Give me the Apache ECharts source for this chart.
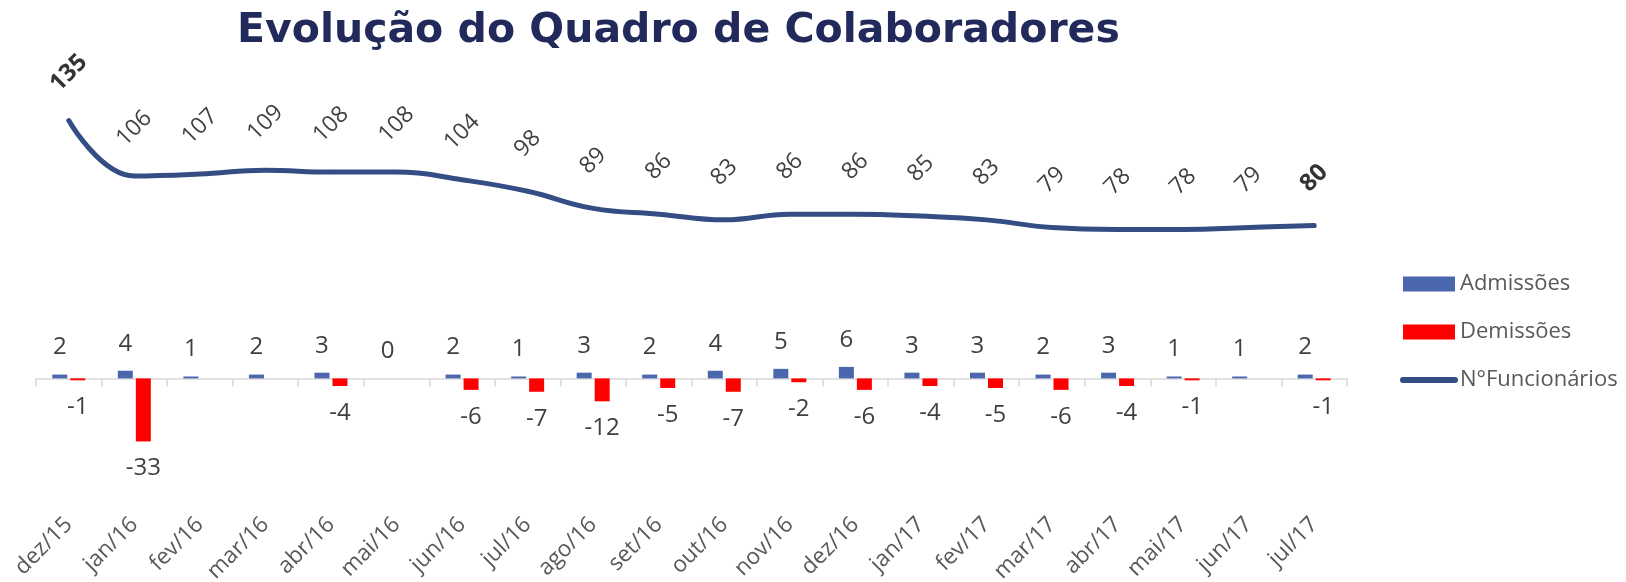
<!DOCTYPE html>
<html><head><meta charset="utf-8">
<script src="https://cdn.jsdelivr.net/npm/echarts@6/dist/echarts.min.js"></script>
<style>html,body{margin:0;padding:0;background:#fff}#c{width:1626px;height:582px}</style>
</head><body><div id="c"></div>
<script>
const categories = ['dez/15','jan/16','fev/16','mar/16','abr/16','mai/16','jun/16','jul/16','ago/16','set/16','out/16','nov/16','dez/16','jan/17','fev/17','mar/17','abr/17','mai/17','jun/17','jul/17'];
const admissoes = [2,4,1,2,3,0,2,1,3,2,4,5,6,3,3,2,3,1,1,2];
const demissoes = [-1,-33,null,null,-4,null,-6,-7,-12,-5,-7,-2,-6,-4,-5,-6,-4,-1,null,-1];
const funcionarios = [135,106,107,109,108,108,104,98,89,86,83,86,86,85,83,79,78,78,79,80];
const boldIdx = [0, funcionarios.length - 1];

const FONT = '"Open Sans", "Noto Sans", sans-serif';
const chart = echarts.init(document.getElementById('c'), null, {renderer:'canvas'});
chart.setOption({
  animation:false,
  backgroundColor:'#ffffff',
  textStyle:{fontFamily:FONT},
  title:{text:'Evolução do Quadro de Colaboradores', left:232, top:6,
    textStyle:{fontSize:41,fontWeight:'bold',color:'#212a5b',fontFamily:'"DejaVu Sans", sans-serif'}},
  legend:{orient:'vertical', left:1395, top:268, itemWidth:52, itemHeight:15, itemGap:26,
    textStyle:{fontSize:22,color:'#595959',fontFamily:FONT},
    data:[{name:'Admissões',icon:'rect'},{name:'Demissões',icon:'rect'},
      {name:'N°Funcionários',itemStyle:{opacity:0},lineStyle:{width:6,cap:'round',color:'#344d85'}}]},
  grid:{left:36,right:279,top:111,bottom:89,outerBoundsMode:'none',containLabel:false},
  xAxis:[
    {type:'category',data:categories,position:'bottom',
      axisLine:{show:false,onZero:false},axisTick:{show:false},
      axisLabel:{rotate:45,margin:28,fontSize:22.5,color:'#595959',interval:0,fontFamily:FONT}},
    {type:'category',data:categories,position:'top',
      axisLine:{show:true,onZero:true,lineStyle:{color:'#d9d9d9',width:1.5}},
      axisTick:{show:true,inside:true,length:8,lineStyle:{color:'#d9d9d9',width:1.5}},
      axisLabel:{show:false}}
  ],
  yAxis:{type:'value',min:-60,max:140,show:false,splitLine:{show:false}},
  series:[
    {name:'Admissões',type:'bar',data:admissoes,barWidth:15,barGap:'20%',xAxisIndex:0,
      itemStyle:{color:'#4a66ad'},
      label:{show:true,position:'top',distance:15,fontSize:24,color:'#404040',fontFamily:FONT}},
    {name:'Demissões',type:'bar',data:demissoes,barWidth:15,xAxisIndex:0,
      itemStyle:{color:'#ff0000'},
      label:{show:true,position:'bottom',distance:15,fontSize:24,color:'#404040',fontFamily:FONT}},
    {name:'N°Funcionários',type:'line',smooth:0.45,xAxisIndex:0,
      data:funcionarios.map((v,i)=>boldIdx.includes(i)?{value:v,label:{fontWeight:'bold',color:'#333333',fontSize:24}}:v),
      symbol:'circle',symbolSize:1,
      lineStyle:{color:'#344d85',width:5,cap:'round'},
      itemStyle:{color:'#344d85'},
      label:{show:true,position:'top',distance:47,rotate:45,align:'center',verticalAlign:'middle',
        fontSize:23,color:'#404040',fontFamily:FONT}}
  ]
});
</script></body></html>
